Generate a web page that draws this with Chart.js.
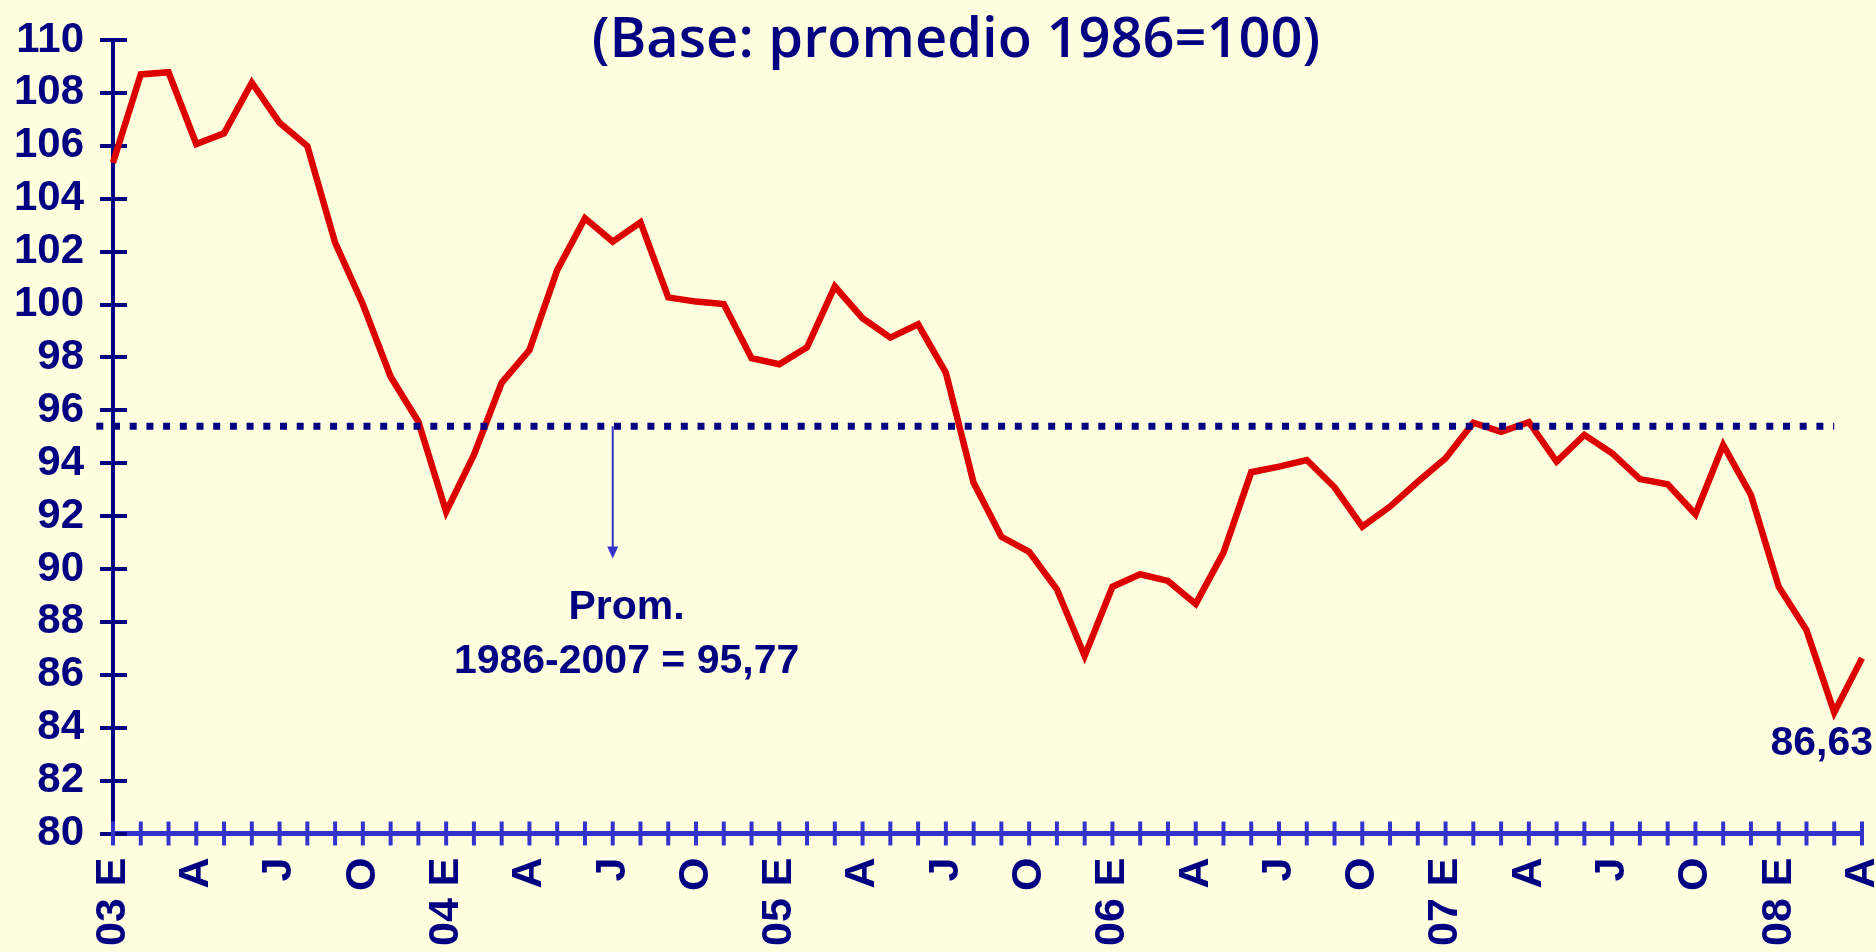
<!DOCTYPE html>
<html lang="es">
<head>
<meta charset="utf-8">
<title>Base: promedio 1986=100</title>
<script src="https://cdn.jsdelivr.net/npm/chart.js@4.4.1/dist/chart.umd.min.js"></script>
<style>
  html, body { margin: 0; padding: 0; background: #FFFFE0; overflow: hidden; }
  canvas { display: block; }
</style>
</head>
<body>
<canvas id="grafico" width="1876" height="952"></canvas>
<script>
// Meses ene-2003 .. abr-2008
const meses = [
  'Ene-03','Feb-03','Mar-03','Abr-03','May-03','Jun-03','Jul-03','Ago-03','Sep-03','Oct-03','Nov-03','Dic-03',
  'Ene-04','Feb-04','Mar-04','Abr-04','May-04','Jun-04','Jul-04','Ago-04','Sep-04','Oct-04','Nov-04','Dic-04',
  'Ene-05','Feb-05','Mar-05','Abr-05','May-05','Jun-05','Jul-05','Ago-05','Sep-05','Oct-05','Nov-05','Dic-05',
  'Ene-06','Feb-06','Mar-06','Abr-06','May-06','Jun-06','Jul-06','Ago-06','Sep-06','Oct-06','Nov-06','Dic-06',
  'Ene-07','Feb-07','Mar-07','Abr-07','May-07','Jun-07','Jul-07','Ago-07','Sep-07','Oct-07','Nov-07','Dic-07',
  'Ene-08','Feb-08','Mar-08','Abr-08'
];

// Etiquetas del eje X (solo trimestres)
const etiquetas = [
  '03 E','','','A','','','J','','','O','','',
  '04 E','','','A','','','J','','','O','','',
  '05 E','','','A','','','J','','','O','','',
  '06 E','','','A','','','J','','','O','','',
  '07 E','','','A','','','J','','','O','','',
  '08 E','','','A'
];

// Índice (base promedio 1986=100)
const indice = [
  105.36,108.70,108.78,106.07,106.47,108.39,106.87,105.99,102.34,100.01,97.27,95.57,
  92.17,94.31,97.04,98.28,101.30,103.26,102.38,103.11,100.27,100.11,100.02,97.97,
  97.74,98.38,100.68,99.48,98.75,99.25,97.42,93.26,91.22,90.65,89.23,86.71,
  89.33,89.80,89.55,88.68,90.62,93.66,93.87,94.12,93.09,91.60,92.36,93.30,
  94.19,95.53,95.19,95.55,94.06,95.07,94.37,93.40,93.20,92.07,94.69,92.80,
  89.33,87.69,84.58,86.63
];

const titulo = '(Base: promedio 1986=100)';
const promedioNivel = 95.4;      // altura de la línea punteada tal como se dibuja
const promedioHasta = 'Mar-08';  // último mes de la línea punteada
const flechaMes = 'Jul-04';
const flechaHasta = 90.4;
const textoProm = ['Prom.', '1986-2007 = 95,77'];
const ultimoValor = '86,63';

const AZUL = '#000080';
const AZUL_EJE = '#3333CC';
const ROJO = '#DD0000';
const FUENTE = '"Liberation Sans", Arial, Helvetica, sans-serif';

const idxFin = meses.indexOf(promedioHasta);
const lineaProm = meses.map((m, i) => i <= idxFin ? promedioNivel : null);

const decoraciones = {
    id: 'decoraciones',
    beforeDatasetsDraw(chart) {
        const { ctx, scales: { x, y } } = chart;
        ctx.save();
        ctx.lineCap = 'butt';
        // marcas del eje Y que cruzan el eje
        ctx.strokeStyle = AZUL;
        ctx.lineWidth = 4;
        y.ticks.forEach(t => {
            const py = Math.round(y.getPixelForValue(t.value));
            ctx.beginPath();
            ctx.moveTo(y.right - 13, py);
            ctx.lineTo(y.right + 14, py);
            ctx.stroke();
        });
        // marcas del eje X (una por mes)
        ctx.strokeStyle = AZUL_EJE;
        meses.forEach((m, i) => {
            const px = x.getPixelForValue(i);
            ctx.beginPath();
            ctx.moveTo(px, x.top - 12);
            ctx.lineTo(px, x.top + 12);
            ctx.stroke();
        });
        // tramo de la línea punteada a la izquierda del eje
        ctx.strokeStyle = AZUL;
        ctx.lineWidth = 7;
        ctx.setLineDash([7, 9.7]);
        const py = y.getPixelForValue(promedioNivel);
        ctx.beginPath();
        ctx.moveTo(y.right - 16.7, py);
        ctx.lineTo(y.right, py);
        ctx.stroke();
        ctx.restore();
    },
    afterDatasetsDraw(chart) {
        const { ctx, scales: { x, y } } = chart;
        ctx.save();

        // flecha desde la línea de promedio
        const fx = x.getPixelForValue(meses.indexOf(flechaMes));
        const y0 = y.getPixelForValue(promedioNivel);
        const y1 = y.getPixelForValue(flechaHasta);
        ctx.strokeStyle = AZUL_EJE;
        ctx.fillStyle = AZUL_EJE;
        ctx.lineWidth = 2;
        ctx.beginPath();
        ctx.moveTo(fx, y0);
        ctx.lineTo(fx, y1 - 10);
        ctx.stroke();
        ctx.beginPath();
        ctx.moveTo(fx - 5.5, y1 - 12);
        ctx.lineTo(fx + 5.5, y1 - 12);
        ctx.lineTo(fx, y1);
        ctx.closePath();
        ctx.fill();

        // texto del promedio
        ctx.fillStyle = AZUL;
        ctx.font = 'bold 41px ' + FUENTE;
        ctx.textAlign = 'center';
        ctx.textBaseline = 'alphabetic';
        const cx = x.getPixelForValue(meses.indexOf(flechaMes) + 0.5);
        ctx.fillText(textoProm[0], cx, y.getPixelForValue(88.1));
        ctx.fillText(textoProm[1], cx, y.getPixelForValue(86.08));

        // último valor
        ctx.textAlign = 'right';
        ctx.fillText(ultimoValor, x.getPixelForValue(meses.length - 1) + 11, y.getPixelForValue(82.97));

        // título
        ctx.font = '600 56px "Open Sans", "DejaVu Sans", sans-serif';
        ctx.textAlign = 'center';
        ctx.fillText(titulo, 956, 57);
        ctx.restore();
    }
};

new Chart(document.getElementById('grafico'), {
    type: 'line',
    data: {
        labels: meses,
        datasets: [
            {
                label: 'Promedio',
                data: lineaProm,
                borderColor: AZUL,
                borderWidth: 7,
                borderDash: [7, 9.7],
                borderCapStyle: 'butt',
                pointRadius: 0,
                tension: 0,
                order: 0
            },
            {
                label: 'Índice',
                data: indice,
                borderColor: ROJO,
                borderWidth: 6.5,
                pointRadius: 0,
                tension: 0,
                order: 1
            }
        ]
    },
    options: {
        responsive: false,
        animation: false,
        devicePixelRatio: 1,
        layout: { padding: { top: 40, right: 14, left: 0, bottom: 0 } },
        plugins: { legend: { display: false }, tooltip: { enabled: false }, title: { display: false } },
        scales: {
            x: {
                type: 'category',
                offset: false,
                grid: { display: false, drawTicks: false },
                border: { display: true, color: AZUL_EJE, width: 5 },
                ticks: {
                    autoSkip: false,
                    maxRotation: 90,
                    minRotation: 90,
                    padding: 24,
                    color: AZUL,
                    font: { family: FUENTE, size: 43, weight: 'bold' },
                    callback: (v, i) => etiquetas[i]
                },
                afterFit: s => { s.height = 118.5; s.paddingLeft = 0; s.paddingRight = 0; }
            },
            y: {
                min: 80,
                max: 110,
                grid: { display: false, drawTicks: false },
                border: { display: true, color: AZUL, width: 4 },
                ticks: {
                    stepSize: 2,
                    autoSkip: false,
                    padding: 29,
                    color: AZUL,
                    font: { family: FUENTE, size: 42, weight: 'bold' }
                },
                afterFit: s => { s.width = 113; s.paddingTop = 0; s.paddingBottom = 0; }
            }
        }
    },
    plugins: [decoraciones]
});
</script>
</body>
</html>
